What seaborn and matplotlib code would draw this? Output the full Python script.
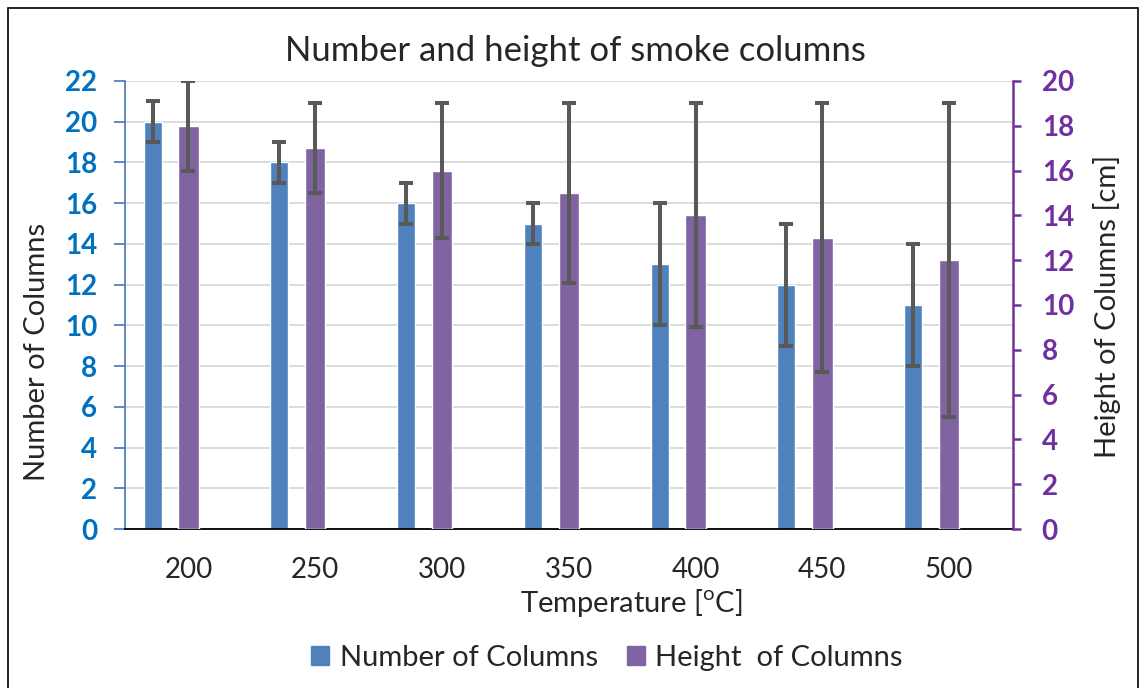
import pandas as pd
import numpy as np
import seaborn as sns
import matplotlib.pyplot as plt
from matplotlib.patches import Patch, Rectangle

temps = ['200', '250', '300', '350', '400', '450', '500']
n_columns = [20, 18, 16, 15, 13, 12, 11]
n_columns_err = [1, 1, 1, 1, 3, 3, 3]
h_columns = [18, 17, 16, 15, 14, 13, 12]
h_columns_err = [2, 2, 3, 4, 5, 6, 7]

df = pd.DataFrame({'Temperature': temps, 'Number': n_columns, 'Height': h_columns})

blue = '#4F81BD'
purple = '#8064A2'
blue_txt = '#0070C0'
purple_txt = '#7030A0'
err_col = '#595959'

sns.set_style('white')
plt.rcParams['font.family'] = ['Lato', 'DejaVu Sans']

fig = plt.figure(figsize=(11.41, 6.88), dpi=100)
ax = fig.add_axes([0.1096, 0.2311, 0.7778, 0.6512])

# primary axis: number of columns, shifted to the left of each category
sns.barplot(data=df, x='Temperature', y='Number', color=blue, width=0.142,
            saturation=1, errorbar=None, ax=ax)
shift = -0.283
for p in ax.patches:
    p.set_x(p.get_x() + shift)
xs = np.arange(len(temps))
ax.errorbar(xs + shift, df['Number'], yerr=n_columns_err, fmt='none', ecolor=err_col,
            elinewidth=2.9, capsize=5, capthick=2.9, zorder=3)
ax.set_ylim(0, 22)
ax.set_yticks(np.arange(0, 23, 2))
ax.yaxis.grid(True, color='#D9D9D9', lw=1.3)
ax.set_axisbelow(True)

# secondary axis: height of columns
ax2 = ax.twinx()
sns.barplot(data=df, x='Temperature', y='Height', color=purple, width=0.162,
            saturation=1, errorbar=None, ax=ax2)
ax2.errorbar(xs, df['Height'], yerr=h_columns_err, fmt='none', ecolor=err_col,
             elinewidth=2.9, capsize=5, capthick=2.9, zorder=3)
ax2.set_ylim(0, 20)
ax2.set_yticks(np.arange(0, 21, 2))
ax.set_xlim(-0.5, len(temps) - 0.5)

ax.set_xlabel('')
ax.set_ylabel('')
ax2.set_xlabel('')
ax2.set_ylabel('')

for s in ['top', 'right']:
    ax.spines[s].set_visible(False)
for s in ['top', 'left', 'bottom']:
    ax2.spines[s].set_visible(False)
ax.spines['left'].set_color(blue)
ax.spines['left'].set_linewidth(1.3)
ax.spines['bottom'].set_color('black')
ax.spines['bottom'].set_linewidth(1.3)
ax2.spines['right'].set_color(purple_txt)
ax2.spines['right'].set_linewidth(1.8)

ax.tick_params(axis='x', length=0, pad=20, labelsize=20)
ax.tick_params(axis='y', left=True, length=8, width=1.3, color=blue, labelcolor=blue_txt,
               labelsize=20, pad=12)
ax2.tick_params(axis='y', right=True, length=6, width=1.8, color=purple_txt,
                labelcolor=purple_txt, labelsize=20, pad=15)
for lab in ax.get_yticklabels() + ax2.get_yticklabels():
    lab.set_fontweight('bold')

fig.text(0.504, 1 - 51/688, 'Number and height of smoke columns', ha='center', va='center', fontsize=25)
fig.text(37/1141, 1 - 352/688, 'Number of Columns', rotation=90, ha='center', va='center', fontsize=21)
fig.text(1107/1141, 1 - 306/688, 'Height of Columns [cm]', rotation=90, ha='center', va='center', fontsize=21)
fig.text(631/1141, 1 - 603/688, r'Temperature [$^\mathregular{o}$C]', ha='center', va='center', fontsize=21)

handles = [Patch(color=blue, label='Number of Columns'),
           Patch(color=purple, label='Height  of Columns')]
fig.legend(handles=handles, loc='center', bbox_to_anchor=(607/1141, 1 - 658/688), ncol=2,
           frameon=False, fontsize=21, handlelength=0.62, handleheight=0.62,
           handletextpad=0.35, columnspacing=1.0)

fig.patches.append(Rectangle((8/1141, -0.05), 1130/1141, 1.05 - 8/688, transform=fig.transFigure,
                             fill=False, edgecolor='black', lw=1.2))

fig.savefig('out.png', dpi=100)
